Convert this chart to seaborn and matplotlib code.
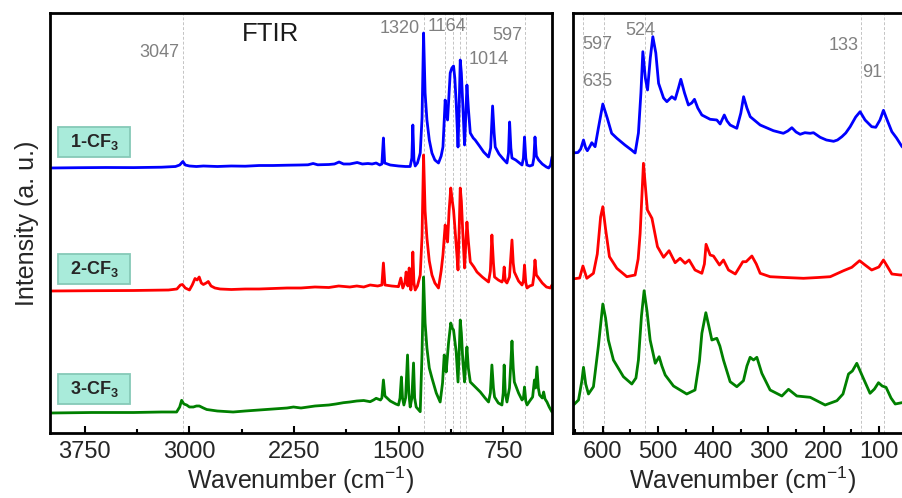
import numpy as np
import pandas as pd
import matplotlib
matplotlib.use('Agg')
import matplotlib.pyplot as plt
import seaborn as sns
from matplotlib.patches import Rectangle
from matplotlib.ticker import MultipleLocator

# ---------------- FTIR data (wavenumber, relative intensity) ----------------
ftir_wn_1 = [4000, 3800, 3600, 3400, 3200, 3100, 3070, 3047, 3030, 3000, 2950, 2900, 2800, 2700, 2600,
             2500, 2400, 2300, 2210, 2150, 2113, 2080, 2000, 1960, 1927, 1895, 1850, 1797, 1760, 1720,
             1690, 1661, 1635, 1620, 1609, 1600, 1560, 1500, 1450, 1417, 1405, 1398, 1390, 1381, 1365,
             1345, 1332, 1321, 1310, 1297, 1280, 1261, 1240, 1214, 1195, 1182, 1172, 1166, 1158, 1149,
             1140, 1130, 1118, 1106, 1097, 1087, 1074, 1066, 1058, 1050, 1039, 1027, 1019, 1010, 1000,
             986, 965, 951, 920, 890, 855, 840, 826, 815, 807, 780, 750, 723, 712, 704, 695, 687, 660,
             615, 605, 597, 588, 579, 560, 539, 530, 522, 512, 496, 470, 440, 424, 410, 400]
ftir_int_1 = [0.0, 0.3, 0.5, 0.4, 0.8, 1.5, 3, 6.5, 3, 2, 1.5, 2, 1.5, 2, 1.8,
              2.5, 2.5, 2.8, 3, 3.2, 4.5, 3.2, 3.5, 4, 6, 4, 4, 5.5, 4, 4.5,
              4, 5, 3, 4, 30, 5, 3, 2, 1.5, 1.5, 10, 43, 8, 2, 5,
              15, 50, 135, 75, 48, 28, 15, 8, 5, 12, 21, 50, 68, 55, 48,
              70, 95, 100, 102, 90, 65, 21, 60, 108, 95, 61, 23, 50, 83, 60,
              35, 30, 28, 22, 16, 11, 20, 62, 35, 21, 14, 9, 5, 15, 46, 20, 10, 8,
              3, 10, 31, 10, 3, 2, 3, 10, 31, 12, 8, 4, 1, 0, 3, 11]

ftir_wn_2 = [4000, 3700, 3400, 3150, 3090, 3065, 3050, 3030, 3000, 2980, 2960, 2945, 2930, 2915, 2900,
             2880, 2865, 2845, 2817, 2780, 2700, 2600, 2500, 2400, 2300, 2200, 2100, 2000, 1930, 1850,
             1800, 1750, 1704, 1650, 1620, 1609, 1598, 1550, 1510, 1501, 1484, 1470, 1455, 1446, 1434,
             1424, 1412, 1405, 1398, 1390, 1381, 1365, 1345, 1332, 1321, 1310, 1297, 1280, 1261, 1240,
             1214, 1195, 1182, 1172, 1166, 1158, 1149, 1138, 1126, 1115, 1106, 1087, 1074, 1066, 1058,
             1050, 1039, 1027, 1019, 1010, 1000, 986, 960, 938, 900, 855, 842, 831, 820, 812, 785, 759,
             750, 743, 735, 723, 705, 687, 678, 670, 640, 615, 605, 597, 588, 579, 560, 539, 530, 522,
             512, 496, 470, 440, 412, 400]
ftir_int_2 = [0, 0.3, 0.5, 1, 2, 6, 6.5, 3, 1, 6, 12.5, 11, 14, 8, 6.5,
              8, 9.5, 5, 3, 2, 1.5, 2, 2, 2.5, 3, 3, 4, 3.5, 5, 4,
              5, 4, 6, 5, 6, 28, 6, 5, 4.5, 4.3, 13, 3, 8, 19, 5,
              23, 1, 10, 39, 8, 1, 5, 16, 55, 136, 80, 53, 30, 16, 8,
              3, 20, 36, 55, 66, 55, 49, 80, 103, 90, 81, 46, 21, 60, 103,
              90, 56, 23, 45, 69, 50, 29, 24, 19, 14, 9, 20, 56, 28, 14, 11, 9,
              12, 24, 10, 8, 14, 51, 28, 19, 10, 6, 10, 26, 8, 3, 5, 6, 15, 31,
              16, 13, 8, 4, 3, 6]

ftir_wn_3 = [4000, 3700, 3400, 3200, 3092, 3070, 3056, 3040, 3020, 3000, 2972, 2950, 2929, 2900, 2876,
             2800, 2687, 2600, 2500, 2400, 2300, 2254, 2200, 2100, 2000, 1950, 1896, 1850, 1800, 1750,
             1704, 1680, 1661, 1630, 1620, 1609, 1598, 1560, 1520, 1501, 1490, 1480, 1472, 1462, 1450,
             1436, 1427, 1417, 1405, 1393, 1385, 1374, 1345, 1332, 1321, 1310, 1297, 1280, 1261, 1230,
             1202, 1185, 1173, 1166, 1159, 1142, 1126, 1115, 1106, 1087, 1074, 1066, 1058, 1050, 1039,
             1027, 1019, 1010, 1000, 986, 950, 914, 880, 855, 842, 831, 820, 812, 785, 759, 750, 743,
             735, 723, 705, 687, 678, 670, 640, 615, 605, 597, 588, 579, 560, 539, 526, 518, 508, 498,
             489, 470, 460, 450, 436, 420, 400]
ftir_int_3 = [0, 0.5, 0.5, 1, 1, 6, 12.7, 9, 8, 6, 6, 7, 7, 5, 3.5,
              2, 1, 2, 3, 4, 5, 6, 5, 7, 8, 9, 10.3, 11, 12, 12.5,
              11.3, 13, 14.7, 13, 15, 33, 17, 12, 9, 8, 15, 36, 15, 8, 15,
              58, 20, 6, 15, 50, 15, 6, 1.3, 60, 136, 90, 65, 45, 35, 20,
              11, 30, 58, 50, 41, 70, 90, 85, 83, 61, 31, 60, 93, 80, 51,
              31, 50, 66, 45, 31, 26, 21, 15, 11, 20, 48, 25, 16, 10, 8, 20, 48,
              20, 11, 25, 72, 45, 31, 20, 13, 15, 26, 12, 8, 12, 16, 33, 25, 46, 25,
              18, 15, 21, 14, 11, 6, 1]

# ---------------- low-wavenumber data ----------------
low_wn_1 = [655, 645, 640, 635, 631, 628, 623, 620, 614, 608, 600, 592, 584, 574.5, 560, 548, 541.5,
            535.5, 531, 527.5, 523, 519, 514, 509.4, 504, 499, 490, 484, 475, 469, 463, 458.7, 452,
            445, 439, 434, 428, 420.6, 405.6, 393.5, 387.5, 380, 375, 369.4, 357.3, 350, 345, 339,
            333, 315, 291, 273, 265, 257.6, 250, 242.6, 234, 224.4, 218.4, 206.3, 195, 182, 175, 167,
            160, 152, 142, 134, 125, 113, 105.6, 98, 91.7, 85, 76.5, 68, 58.5, 50, 40]
low_int_1 = [0, 0.5, 4, 13, 5, 2.3, 7, 10.3, 6.3, 25, 49, 35, 19.7, 14.7, 8, 3, 0,
             20, 60, 101.3, 75, 63, 95, 116.3, 100, 69.7, 55, 51.3, 56.3, 53.7, 65, 73.7, 60,
             48, 50, 53.7, 45, 38, 33.7, 33, 29, 38, 32, 28, 24.7, 40, 56.3, 45,
             36.3, 28, 22.3, 19.7, 22, 25.3, 21, 18.7, 20.3, 19.7, 20.3, 15.7, 13, 11.7, 13, 16.3,
             20, 26.3, 36, 41.3, 33, 26.3, 25.7, 33, 42.7, 33, 21.3, 15, 6.7, 2, 0]

low_wn_2 = [655, 642, 636, 629, 617, 610, 604, 600, 595, 588, 574.6, 556.5, 541.5, 536, 532.4, 526.4,
            521, 519.2, 511, 501, 490, 480, 469, 460, 451, 443.7, 433, 420.6, 416, 413, 405.6, 399.6,
            388.7, 381.5, 372.4, 360, 346.4, 340.4, 330, 322, 315, 297, 270, 236.6, 210, 188, 164,
            149, 135, 125, 113, 100, 91.7, 84, 76.5, 61.4, 40]
low_int_2 = [0, 1, 13, 0.7, 5.7, 25, 62, 72.3, 50, 22.3, 10.7, 2.3, 4, 20, 45.7, 115.7,
             80, 69, 60.7, 32.3, 21.7, 28.3, 16.3, 20.7, 15.7, 19, 9, 5.7, 15, 34.7, 24, 23,
             14, 19, 9, 5, 17.3, 17.3, 23, 15, 5.7, 2.3, 1.5, 0.7, 1.5, 2.3, 8.3,
             11.7, 18.3, 14, 9, 12, 19, 12, 5, 4, 4]

low_wn_3 = [655, 644, 638, 635, 631, 626, 617, 608, 600, 595, 590, 580.8, 562.7, 547.5, 540, 535.5,
            530, 525.2, 520, 514.3, 505, 498, 493, 487, 472, 448, 433, 425, 420.6, 413.4, 408, 402.5,
            393.5, 388, 381.5, 369.4, 357.3, 345.3, 339, 333.2, 327, 321, 312, 297, 275.7, 263.7,
            248.6, 224.4, 197.3, 176, 165, 155, 148, 140, 130, 116, 108, 100.7, 94, 87, 78, 70.4,
            58.5, 40]
low_int_3 = [0, 6, 25, 38.7, 22, 12, 19.3, 60, 102, 88, 66, 46, 29.3, 22, 28, 46,
             90, 115.3, 95, 66, 42.7, 49.3, 40, 31, 20, 12, 16, 45, 72.7, 93.3, 80, 66,
             67.7, 60, 46, 24.3, 19.3, 25.3, 40, 48.7, 46, 48.7, 32.7, 16, 10, 16.7,
             10, 8.7, 1, 5.3, 12, 32, 35, 42.7, 30, 12.7, 17, 23.3, 20, 18.7, 8, 2,
             3.3, 3]

sample_names = ['1', '2', '3']
line_colors = ['#0000ff', '#ff0000', '#008000']
ftir_offsets = [265, 142, 20]
low_offsets = [280, 154, 27]

ftir_marks = [3047, 1320, 1164, 1110, 1063, 1014, 597]
low_marks = [635, 597, 524, 133, 91]

# ---------------- style ----------------
sns.set_theme(style='ticks')
plt.rcParams['font.family'] = ['Liberation Sans', 'DejaVu Sans']
plt.rcParams['mathtext.fontset'] = 'custom'
plt.rcParams['mathtext.rm'] = 'Liberation Sans'
plt.rcParams['mathtext.bf'] = 'Liberation Sans:bold'
plt.rcParams['mathtext.it'] = 'Liberation Sans:italic'

fig = plt.figure(figsize=(9.02, 4.98), dpi=100)
ax1 = fig.add_axes([50 / 902, 65 / 498, 502 / 902, 420 / 498])
ax2 = fig.add_axes([573 / 902, 65 / 498, 339 / 902, 420 / 498])

grid_kw = dict(color='#c4c4c4', lw=0.7, ls=(0, (3, 2)), zorder=0)
for m in ftir_marks:
    ax1.axvline(m, **grid_kw)
for m in low_marks:
    ax2.axvline(m, **grid_kw)

ftir_sets = [(ftir_wn_1, ftir_int_1), (ftir_wn_2, ftir_int_2), (ftir_wn_3, ftir_int_3)]
low_sets = [(low_wn_1, low_int_1), (low_wn_2, low_int_2), (low_wn_3, low_int_3)]

for (wn, val), off, col in zip(ftir_sets, ftir_offsets, line_colors):
    df = pd.DataFrame({'wn': wn, 'I': np.asarray(val, float) + off})
    sns.lineplot(data=df, x='wn', y='I', color=col, lw=2, ax=ax1, estimator=None, sort=False)
for (wn, val), off, col in zip(low_sets, low_offsets, line_colors):
    df = pd.DataFrame({'wn': wn, 'I': np.asarray(val, float) + off})
    sns.lineplot(data=df, x='wn', y='I', color=col, lw=2, ax=ax2, estimator=None, sort=False)

ax1.set_xlim(4000, 400)
ax2.set_xlim(654, 40)
for ax in (ax1, ax2):
    ax.set_ylim(0, 420)
    ax.set_yticks([])
    ax.set_xlabel('Wavenumber (cm$^{-1}$)', fontsize=18, labelpad=1)
    ax.tick_params(axis='x', which='major', direction='in', length=5, width=1.5,
                   labelsize=17, pad=6, color='black')
    ax.tick_params(axis='x', which='minor', direction='in', length=3, width=1.5, color='black')
    for s in ax.spines.values():
        s.set_linewidth(2)
        s.set_color('black')
    ax.set_facecolor('white')

ax1.set_xticks([3750, 3000, 2250, 1500, 750])
ax1.xaxis.set_minor_locator(MultipleLocator(375))
ax2.set_xticks([600, 500, 400, 300, 200, 100])
ax2.xaxis.set_minor_locator(MultipleLocator(50))
ax1.set_ylabel('Intensity (a. u.)', fontsize=18, labelpad=8)
ax2.set_ylabel('')

# annotations
gray = '#808080'
ax1.text(2422, 399, 'FTIR', fontsize=18.5, ha='center', va='center', color='#1a1a1a')
ax1.text(3076, 380, '3047', fontsize=13, ha='right', va='center', color=gray)
ax1.text(1349, 404, '1320', fontsize=13, ha='right', va='center', color=gray)
ax1.text(1150, 406, '1164', fontsize=13, ha='center', va='center', color=gray)
ax1.text(1000, 373, '1014', fontsize=13, ha='left', va='center', color=gray)
ax1.text(611, 397, '597', fontsize=13, ha='right', va='center', color=gray)

ax2.text(610, 388, '597', fontsize=13, ha='center', va='center', color=gray)
ax2.text(611, 351, '635', fontsize=13, ha='center', va='center', color=gray)
ax2.text(532, 402, '524', fontsize=13, ha='center', va='center', color=gray)
ax2.text(137.5, 387, '133', fontsize=13, ha='right', va='center', color=gray)
ax2.text(94, 360, '91', fontsize=13, ha='right', va='center', color=gray)

# sample label boxes
box_y = [0.658, 0.3536, 0.069]
for name, y0 in zip(sample_names, box_y):
    ax1.add_patch(Rectangle((0.016, y0), 0.1434, 0.0714, transform=ax1.transAxes,
                            facecolor='#a9ebda', edgecolor='#86c9b7', lw=1.3, zorder=5))
    ax1.text(0.016 + 0.0717, y0 + 0.0357, name + r'-CF$_\mathbf{3}$', transform=ax1.transAxes,
             fontsize=13, fontweight='bold', ha='center', va='center', zorder=6)

fig.savefig('out.png', dpi=100, facecolor='white')
